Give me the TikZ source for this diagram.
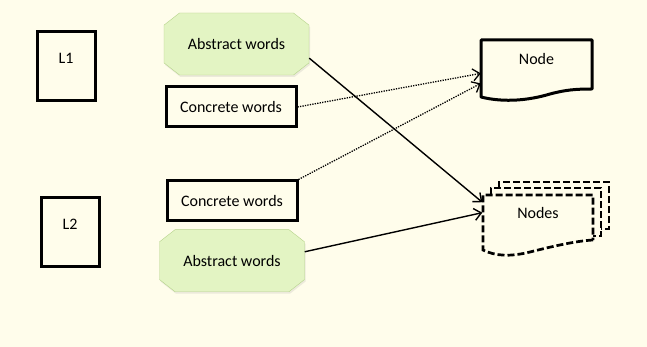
\documentclass[tikz,border=0pt]{standalone}
\usepackage{fontspec}
\setmainfont{Carlito}
\usetikzlibrary{positioning, calc, shapes.misc, arrows.meta, shadows}
\definecolor{bgcream}{HTML}{FFFDEB}
\definecolor{absfill}{HTML}{E3F4C3}
\definecolor{absline}{HTML}{B5D38A}

\begin{document}
\begin{tikzpicture}[x=1pt, y=-1pt, >={Straight Barb[length=7pt, width=12pt]},
	every node/.style={font=\fontsize{16}{19}\selectfont},
	lvl/.style={rectangle, draw, line width=3pt, minimum width=58pt, minimum height=69pt, text depth=16pt},
	conc/.style={rectangle, draw, line width=3pt, minimum width=130pt, minimum height=40pt},
	abst/.style={chamfered rectangle, chamfered rectangle angle=52, chamfered rectangle xsep=13pt, draw=absline, fill=absfill, minimum width=145pt, minimum height=62pt, drop shadow={opacity=0.15, shadow xshift=1pt, shadow yshift=-2pt}},
	doc/.style={rectangle, minimum width=111pt, minimum height=57pt, text depth=19pt},
	link/.style={->, line width=1.4pt},
	dotlink/.style={->, line width=1.3pt, dash pattern=on 1.3pt off 1.2pt}]
		\useasboundingbox (0,0) rectangle (647,347);
		\fill[bgcream] (0,0) rectangle (647,347);
		% levels
		\node[lvl] (L1) at (66,66.5) {L1};
		\node[lvl] (L2) at (70,232) {L2};
		% targets
		\node[doc] (doc) at (536.5,68.5) {Node};
		\node[doc, minimum height=55pt, text depth=20pt] (docs) at (538,222.5) {Nodes};
		\draw[line width=3pt, line join=round] (592,89) .. controls (575,89) and (565,90) .. (550,94) .. controls (530,100) and (505,103) .. (481,97) -- (481,40) -- (592,40) -- cycle;
		\begin{scope}[line width=2.7pt, dash pattern=on 7pt off 3pt]
			\draw (499,188) -- (499,182) -- (609,182) -- (609,229) -- (601,229);
			\draw (491,195) -- (491,188) -- (601,188) -- (601,236) -- (593,236);
			\draw (593,240) .. controls (575,241) and (550,247) .. (530,252) .. controls (510,257) and (495,256) .. (483,250) -- (483,195) -- (593,195) -- cycle;
		\end{scope}
		% words
		\node[abst] (abs1) at (236.5,44) {Abstract words};
		\node[conc] (con1) at (231,107) {Concrete words};
		\node[conc] (con2) at (232,201) {Concrete words};
		\node[abst] (abs2) [below=7pt of con2] {Abstract words};
		% links
		\draw[link] (abs1.-11) -- (docs.160);
		\draw[dotlink] (con1.east) -- (doc.185);
		\draw[dotlink] (con2.north east) -- (doc.195);
		\draw[link] (abs2.7) -- (docs.170);
	\end{tikzpicture}
\end{document}
